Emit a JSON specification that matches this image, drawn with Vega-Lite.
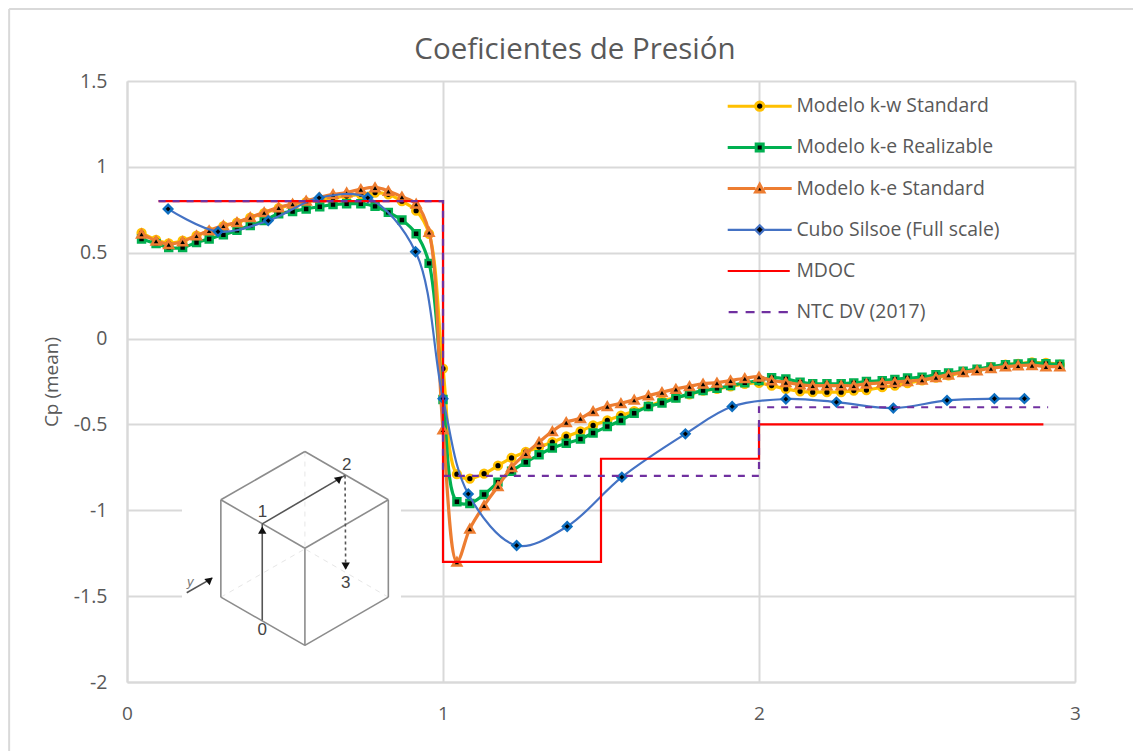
{
"$schema":"https://vega.github.io/schema/vega-lite/v6.json",
"width":948,"height":601,
"autosize":{"type":"none"},
"padding":{"left":127,"top":81,"right":58,"bottom":69},
"background":"white",
"title":{"text":"Coeficientes de Presión","font":"Open Sans","fontSize":29.5,"fontWeight":"normal","color":"#595959","anchor":"middle","dx":-26,"offset":-58},
"config":{"view":{"stroke":null}},
"datasets":{
"series":[
{"serie":"Modelo k-w Standard","x":0.046,"cp":0.615},{"serie":"Modelo k-w Standard","x":0.092,"cp":0.575},{"serie":"Modelo k-w Standard","x":0.132,"cp":0.555},{"serie":"Modelo k-w Standard","x":0.176,"cp":0.57},{"serie":"Modelo k-w Standard","x":0.22,"cp":0.6},{"serie":"Modelo k-w Standard","x":0.26,"cp":0.625},{"serie":"Modelo k-w Standard","x":0.305,"cp":0.655},{"serie":"Modelo k-w Standard","x":0.348,"cp":0.675},{"serie":"Modelo k-w Standard","x":0.39,"cp":0.705},{"serie":"Modelo k-w Standard","x":0.434,"cp":0.73},{"serie":"Modelo k-w Standard","x":0.48,"cp":0.76},{"serie":"Modelo k-w Standard","x":0.524,"cp":0.78},{"serie":"Modelo k-w Standard","x":0.567,"cp":0.795},{"serie":"Modelo k-w Standard","x":0.61,"cp":0.81},{"serie":"Modelo k-w Standard","x":0.652,"cp":0.82},{"serie":"Modelo k-w Standard","x":0.695,"cp":0.83},{"serie":"Modelo k-w Standard","x":0.74,"cp":0.84},{"serie":"Modelo k-w Standard","x":0.785,"cp":0.85},{"serie":"Modelo k-w Standard","x":0.827,"cp":0.84},{"serie":"Modelo k-w Standard","x":0.87,"cp":0.8},{"serie":"Modelo k-w Standard","x":0.915,"cp":0.745},{"serie":"Modelo k-w Standard","x":0.956,"cp":0.61},{"serie":"Modelo k-w Standard","x":1.0,"cp":-0.175},{"serie":"Modelo k-w Standard","x":1.044,"cp":-0.79},{"serie":"Modelo k-w Standard","x":1.085,"cp":-0.815},{"serie":"Modelo k-w Standard","x":1.13,"cp":-0.787},{"serie":"Modelo k-w Standard","x":1.174,"cp":-0.74},{"serie":"Modelo k-w Standard","x":1.217,"cp":-0.695},{"serie":"Modelo k-w Standard","x":1.262,"cp":-0.66},{"serie":"Modelo k-w Standard","x":1.304,"cp":-0.632},{"serie":"Modelo k-w Standard","x":1.346,"cp":-0.603},{"serie":"Modelo k-w Standard","x":1.39,"cp":-0.57},{"serie":"Modelo k-w Standard","x":1.435,"cp":-0.54},{"serie":"Modelo k-w Standard","x":1.475,"cp":-0.506},{"serie":"Modelo k-w Standard","x":1.52,"cp":-0.477},{"serie":"Modelo k-w Standard","x":1.563,"cp":-0.448},{"serie":"Modelo k-w Standard","x":1.605,"cp":-0.423},{"serie":"Modelo k-w Standard","x":1.65,"cp":-0.394},{"serie":"Modelo k-w Standard","x":1.693,"cp":-0.365},{"serie":"Modelo k-w Standard","x":1.737,"cp":-0.343},{"serie":"Modelo k-w Standard","x":1.78,"cp":-0.325},{"serie":"Modelo k-w Standard","x":1.823,"cp":-0.303},{"serie":"Modelo k-w Standard","x":1.867,"cp":-0.293},{"serie":"Modelo k-w Standard","x":1.91,"cp":-0.278},{"serie":"Modelo k-w Standard","x":1.955,"cp":-0.264},{"serie":"Modelo k-w Standard","x":2.0,"cp":-0.258},{"serie":"Modelo k-w Standard","x":2.04,"cp":-0.274},{"serie":"Modelo k-w Standard","x":2.085,"cp":-0.293},{"serie":"Modelo k-w Standard","x":2.13,"cp":-0.307},{"serie":"Modelo k-w Standard","x":2.17,"cp":-0.312},{"serie":"Modelo k-w Standard","x":2.215,"cp":-0.312},{"serie":"Modelo k-w Standard","x":2.26,"cp":-0.312},{"serie":"Modelo k-w Standard","x":2.3,"cp":-0.303},{"serie":"Modelo k-w Standard","x":2.34,"cp":-0.3},{"serie":"Modelo k-w Standard","x":2.39,"cp":-0.283},{"serie":"Modelo k-w Standard","x":2.43,"cp":-0.274},{"serie":"Modelo k-w Standard","x":2.47,"cp":-0.26},{"serie":"Modelo k-w Standard","x":2.516,"cp":-0.244},{"serie":"Modelo k-w Standard","x":2.56,"cp":-0.227},{"serie":"Modelo k-w Standard","x":2.6,"cp":-0.215},{"serie":"Modelo k-w Standard","x":2.646,"cp":-0.196},{"serie":"Modelo k-w Standard","x":2.69,"cp":-0.182},{"serie":"Modelo k-w Standard","x":2.734,"cp":-0.167},{"serie":"Modelo k-w Standard","x":2.78,"cp":-0.151},{"serie":"Modelo k-w Standard","x":2.82,"cp":-0.147},{"serie":"Modelo k-w Standard","x":2.864,"cp":-0.138},{"serie":"Modelo k-w Standard","x":2.908,"cp":-0.142},{"serie":"Modelo k-w Standard","x":2.952,"cp":-0.151},
{"serie":"Modelo k-e Realizable","x":0.046,"cp":0.58},{"serie":"Modelo k-e Realizable","x":0.092,"cp":0.553},{"serie":"Modelo k-e Realizable","x":0.132,"cp":0.53},{"serie":"Modelo k-e Realizable","x":0.176,"cp":0.53},{"serie":"Modelo k-e Realizable","x":0.22,"cp":0.56},{"serie":"Modelo k-e Realizable","x":0.26,"cp":0.58},{"serie":"Modelo k-e Realizable","x":0.305,"cp":0.605},{"serie":"Modelo k-e Realizable","x":0.348,"cp":0.63},{"serie":"Modelo k-e Realizable","x":0.39,"cp":0.658},{"serie":"Modelo k-e Realizable","x":0.434,"cp":0.687},{"serie":"Modelo k-e Realizable","x":0.48,"cp":0.727},{"serie":"Modelo k-e Realizable","x":0.524,"cp":0.74},{"serie":"Modelo k-e Realizable","x":0.567,"cp":0.755},{"serie":"Modelo k-e Realizable","x":0.61,"cp":0.768},{"serie":"Modelo k-e Realizable","x":0.652,"cp":0.78},{"serie":"Modelo k-e Realizable","x":0.695,"cp":0.785},{"serie":"Modelo k-e Realizable","x":0.74,"cp":0.785},{"serie":"Modelo k-e Realizable","x":0.785,"cp":0.77},{"serie":"Modelo k-e Realizable","x":0.827,"cp":0.735},{"serie":"Modelo k-e Realizable","x":0.87,"cp":0.69},{"serie":"Modelo k-e Realizable","x":0.915,"cp":0.61},{"serie":"Modelo k-e Realizable","x":0.956,"cp":0.438},{"serie":"Modelo k-e Realizable","x":1.0,"cp":-0.355},{"serie":"Modelo k-e Realizable","x":1.044,"cp":-0.95},{"serie":"Modelo k-e Realizable","x":1.085,"cp":-0.96},{"serie":"Modelo k-e Realizable","x":1.13,"cp":-0.908},{"serie":"Modelo k-e Realizable","x":1.174,"cp":-0.836},{"serie":"Modelo k-e Realizable","x":1.217,"cp":-0.773},{"serie":"Modelo k-e Realizable","x":1.262,"cp":-0.72},{"serie":"Modelo k-e Realizable","x":1.304,"cp":-0.677},{"serie":"Modelo k-e Realizable","x":1.346,"cp":-0.637},{"serie":"Modelo k-e Realizable","x":1.39,"cp":-0.61},{"serie":"Modelo k-e Realizable","x":1.435,"cp":-0.585},{"serie":"Modelo k-e Realizable","x":1.475,"cp":-0.55},{"serie":"Modelo k-e Realizable","x":1.52,"cp":-0.512},{"serie":"Modelo k-e Realizable","x":1.563,"cp":-0.477},{"serie":"Modelo k-e Realizable","x":1.605,"cp":-0.435},{"serie":"Modelo k-e Realizable","x":1.65,"cp":-0.396},{"serie":"Modelo k-e Realizable","x":1.693,"cp":-0.375},{"serie":"Modelo k-e Realizable","x":1.737,"cp":-0.347},{"serie":"Modelo k-e Realizable","x":1.78,"cp":-0.322},{"serie":"Modelo k-e Realizable","x":1.823,"cp":-0.303},{"serie":"Modelo k-e Realizable","x":1.867,"cp":-0.29},{"serie":"Modelo k-e Realizable","x":1.91,"cp":-0.274},{"serie":"Modelo k-e Realizable","x":1.955,"cp":-0.257},{"serie":"Modelo k-e Realizable","x":2.0,"cp":-0.245},{"serie":"Modelo k-e Realizable","x":2.04,"cp":-0.228},{"serie":"Modelo k-e Realizable","x":2.085,"cp":-0.235},{"serie":"Modelo k-e Realizable","x":2.13,"cp":-0.254},{"serie":"Modelo k-e Realizable","x":2.17,"cp":-0.263},{"serie":"Modelo k-e Realizable","x":2.215,"cp":-0.263},{"serie":"Modelo k-e Realizable","x":2.26,"cp":-0.263},{"serie":"Modelo k-e Realizable","x":2.3,"cp":-0.258},{"serie":"Modelo k-e Realizable","x":2.34,"cp":-0.25},{"serie":"Modelo k-e Realizable","x":2.39,"cp":-0.245},{"serie":"Modelo k-e Realizable","x":2.43,"cp":-0.238},{"serie":"Modelo k-e Realizable","x":2.47,"cp":-0.23},{"serie":"Modelo k-e Realizable","x":2.516,"cp":-0.225},{"serie":"Modelo k-e Realizable","x":2.56,"cp":-0.21},{"serie":"Modelo k-e Realizable","x":2.6,"cp":-0.2},{"serie":"Modelo k-e Realizable","x":2.646,"cp":-0.19},{"serie":"Modelo k-e Realizable","x":2.69,"cp":-0.178},{"serie":"Modelo k-e Realizable","x":2.734,"cp":-0.165},{"serie":"Modelo k-e Realizable","x":2.78,"cp":-0.152},{"serie":"Modelo k-e Realizable","x":2.82,"cp":-0.148},{"serie":"Modelo k-e Realizable","x":2.864,"cp":-0.142},{"serie":"Modelo k-e Realizable","x":2.908,"cp":-0.147},{"serie":"Modelo k-e Realizable","x":2.952,"cp":-0.15},
{"serie":"Modelo k-e Standard","x":0.046,"cp":0.61},{"serie":"Modelo k-e Standard","x":0.092,"cp":0.57},{"serie":"Modelo k-e Standard","x":0.132,"cp":0.55},{"serie":"Modelo k-e Standard","x":0.176,"cp":0.566},{"serie":"Modelo k-e Standard","x":0.22,"cp":0.6},{"serie":"Modelo k-e Standard","x":0.26,"cp":0.63},{"serie":"Modelo k-e Standard","x":0.305,"cp":0.658},{"serie":"Modelo k-e Standard","x":0.348,"cp":0.677},{"serie":"Modelo k-e Standard","x":0.39,"cp":0.706},{"serie":"Modelo k-e Standard","x":0.434,"cp":0.735},{"serie":"Modelo k-e Standard","x":0.48,"cp":0.764},{"serie":"Modelo k-e Standard","x":0.524,"cp":0.785},{"serie":"Modelo k-e Standard","x":0.567,"cp":0.803},{"serie":"Modelo k-e Standard","x":0.61,"cp":0.822},{"serie":"Modelo k-e Standard","x":0.652,"cp":0.84},{"serie":"Modelo k-e Standard","x":0.695,"cp":0.85},{"serie":"Modelo k-e Standard","x":0.74,"cp":0.87},{"serie":"Modelo k-e Standard","x":0.785,"cp":0.88},{"serie":"Modelo k-e Standard","x":0.827,"cp":0.86},{"serie":"Modelo k-e Standard","x":0.87,"cp":0.826},{"serie":"Modelo k-e Standard","x":0.915,"cp":0.785},{"serie":"Modelo k-e Standard","x":0.956,"cp":0.62},{"serie":"Modelo k-e Standard","x":1.0,"cp":-0.53},{"serie":"Modelo k-e Standard","x":1.044,"cp":-1.3},{"serie":"Modelo k-e Standard","x":1.085,"cp":-1.107},{"serie":"Modelo k-e Standard","x":1.13,"cp":-0.972},{"serie":"Modelo k-e Standard","x":1.174,"cp":-0.86},{"serie":"Modelo k-e Standard","x":1.217,"cp":-0.75},{"serie":"Modelo k-e Standard","x":1.262,"cp":-0.67},{"serie":"Modelo k-e Standard","x":1.304,"cp":-0.603},{"serie":"Modelo k-e Standard","x":1.346,"cp":-0.54},{"serie":"Modelo k-e Standard","x":1.39,"cp":-0.487},{"serie":"Modelo k-e Standard","x":1.435,"cp":-0.464},{"serie":"Modelo k-e Standard","x":1.475,"cp":-0.423},{"serie":"Modelo k-e Standard","x":1.52,"cp":-0.394},{"serie":"Modelo k-e Standard","x":1.563,"cp":-0.377},{"serie":"Modelo k-e Standard","x":1.605,"cp":-0.357},{"serie":"Modelo k-e Standard","x":1.65,"cp":-0.332},{"serie":"Modelo k-e Standard","x":1.693,"cp":-0.312},{"serie":"Modelo k-e Standard","x":1.737,"cp":-0.293},{"serie":"Modelo k-e Standard","x":1.78,"cp":-0.278},{"serie":"Modelo k-e Standard","x":1.823,"cp":-0.263},{"serie":"Modelo k-e Standard","x":1.867,"cp":-0.257},{"serie":"Modelo k-e Standard","x":1.91,"cp":-0.244},{"serie":"Modelo k-e Standard","x":1.955,"cp":-0.231},{"serie":"Modelo k-e Standard","x":2.0,"cp":-0.222},{"serie":"Modelo k-e Standard","x":2.04,"cp":-0.244},{"serie":"Modelo k-e Standard","x":2.085,"cp":-0.254},{"serie":"Modelo k-e Standard","x":2.13,"cp":-0.268},{"serie":"Modelo k-e Standard","x":2.17,"cp":-0.274},{"serie":"Modelo k-e Standard","x":2.215,"cp":-0.274},{"serie":"Modelo k-e Standard","x":2.26,"cp":-0.274},{"serie":"Modelo k-e Standard","x":2.3,"cp":-0.274},{"serie":"Modelo k-e Standard","x":2.34,"cp":-0.263},{"serie":"Modelo k-e Standard","x":2.39,"cp":-0.258},{"serie":"Modelo k-e Standard","x":2.43,"cp":-0.254},{"serie":"Modelo k-e Standard","x":2.47,"cp":-0.248},{"serie":"Modelo k-e Standard","x":2.516,"cp":-0.24},{"serie":"Modelo k-e Standard","x":2.56,"cp":-0.225},{"serie":"Modelo k-e Standard","x":2.6,"cp":-0.21},{"serie":"Modelo k-e Standard","x":2.646,"cp":-0.196},{"serie":"Modelo k-e Standard","x":2.69,"cp":-0.186},{"serie":"Modelo k-e Standard","x":2.734,"cp":-0.173},{"serie":"Modelo k-e Standard","x":2.78,"cp":-0.163},{"serie":"Modelo k-e Standard","x":2.82,"cp":-0.157},{"serie":"Modelo k-e Standard","x":2.864,"cp":-0.155},{"serie":"Modelo k-e Standard","x":2.908,"cp":-0.163},{"serie":"Modelo k-e Standard","x":2.952,"cp":-0.163},
{"serie":"Cubo Silsoe (Full scale)","x":0.13,"cp":0.755},{"serie":"Cubo Silsoe (Full scale)","x":0.288,"cp":0.623},{"serie":"Cubo Silsoe (Full scale)","x":0.447,"cp":0.687},{"serie":"Cubo Silsoe (Full scale)","x":0.608,"cp":0.82},{"serie":"Cubo Silsoe (Full scale)","x":0.762,"cp":0.82},{"serie":"Cubo Silsoe (Full scale)","x":0.913,"cp":0.506},{"serie":"Cubo Silsoe (Full scale)","x":1.0,"cp":-0.35},{"serie":"Cubo Silsoe (Full scale)","x":1.08,"cp":-0.905},{"serie":"Cubo Silsoe (Full scale)","x":1.233,"cp":-1.205},{"serie":"Cubo Silsoe (Full scale)","x":1.393,"cp":-1.094},{"serie":"Cubo Silsoe (Full scale)","x":1.566,"cp":-0.807},{"serie":"Cubo Silsoe (Full scale)","x":1.767,"cp":-0.555},{"serie":"Cubo Silsoe (Full scale)","x":1.915,"cp":-0.396},{"serie":"Cubo Silsoe (Full scale)","x":2.085,"cp":-0.352},{"serie":"Cubo Silsoe (Full scale)","x":2.245,"cp":-0.37},{"serie":"Cubo Silsoe (Full scale)","x":2.425,"cp":-0.405},{"serie":"Cubo Silsoe (Full scale)","x":2.595,"cp":-0.36},{"serie":"Cubo Silsoe (Full scale)","x":2.745,"cp":-0.35},{"serie":"Cubo Silsoe (Full scale)","x":2.84,"cp":-0.35},
{"serie":"MDOC","orden":1,"x":0.1,"cp":0.8},{"serie":"MDOC","orden":2,"x":1,"cp":0.8},{"serie":"MDOC","orden":3,"x":1,"cp":-1.3},{"serie":"MDOC","orden":4,"x":1.5,"cp":-1.3},{"serie":"MDOC","orden":5,"x":1.5,"cp":-0.7},{"serie":"MDOC","orden":6,"x":2,"cp":-0.7},{"serie":"MDOC","orden":7,"x":2,"cp":-0.5},{"serie":"MDOC","orden":8,"x":2.9,"cp":-0.5},
{"serie":"NTC DV (2017)","orden":1,"x":0.1,"cp":0.8},{"serie":"NTC DV (2017)","orden":2,"x":1,"cp":0.8},{"serie":"NTC DV (2017)","orden":3,"x":1,"cp":-0.8},{"serie":"NTC DV (2017)","orden":4,"x":2,"cp":-0.8},{"serie":"NTC DV (2017)","orden":5,"x":2,"cp":-0.4},{"serie":"NTC DV (2017)","orden":6,"x":2.915,"cp":-0.4}
],
"cubo":[
{"parte":"arista","x":0.563,"cp":-0.658,"x2":0.827,"cp2":-0.939},
{"parte":"arista","x":0.827,"cp":-0.939,"x2":0.563,"cp2":-1.221},
{"parte":"arista","x":0.563,"cp":-1.221,"x2":0.297,"cp2":-0.939},
{"parte":"arista","x":0.297,"cp":-0.939,"x2":0.563,"cp2":-0.658},
{"parte":"arista","x":0.297,"cp":-0.939,"x2":0.297,"cp2":-1.506},
{"parte":"arista","x":0.297,"cp":-1.506,"x2":0.563,"cp2":-1.787},
{"parte":"arista","x":0.563,"cp":-1.787,"x2":0.827,"cp2":-1.506},
{"parte":"arista","x":0.827,"cp":-1.506,"x2":0.827,"cp2":-0.939},
{"parte":"arista","x":0.563,"cp":-1.221,"x2":0.563,"cp2":-1.787},
{"parte":"oculta","x":0.563,"cp":-0.658,"x2":0.563,"cp2":-1.221},
{"parte":"oculta","x":0.297,"cp":-1.506,"x2":0.563,"cp2":-1.225},
{"parte":"oculta","x":0.827,"cp":-1.506,"x2":0.563,"cp2":-1.225},
{"parte":"flecha","x":0.428,"cp":-1.641,"x2":0.428,"cp2":-1.079},
{"parte":"flecha","x":0.428,"cp":-1.079,"x2":0.69,"cp2":-0.797},
{"parte":"flecha","x":0.189,"cp":-1.48,"x2":0.27,"cp2":-1.395},
{"parte":"flecha3","x":0.69,"cp":-0.797,"x2":0.692,"cp2":-1.35}
],
"puntas":[
{"x":0.428,"cp":-1.115,"giro":0},
{"x":0.672,"cp":-0.815,"giro":50},
{"x":0.692,"cp":-1.325,"giro":180},
{"x":0.262,"cp":-1.405,"giro":50}
],
"rotulos":[
{"x":0.428,"cp":-1.7,"rotulo":"0"},
{"x":0.429,"cp":-1.01,"rotulo":"1"},
{"x":0.695,"cp":-0.735,"rotulo":"2"},
{"x":0.692,"cp":-1.425,"rotulo":"3"}
],
"mascara":[{"x":0.174,"cp":-0.61,"x2":0.867,"cp2":-1.845}],
"marco":[
{"x":-0.373,"cp":1.92,"x2":3.184,"cp2":1.92},
{"x":-0.373,"cp":1.92,"x2":-0.373,"cp2":-2.404}
]
},
"encoding":{
"x":{"field":"x","type":"quantitative","scale":{"domain":[0,3],"nice":false,"zero":false},
"axis":{"title":null,"values":[0,1,2,3],"grid":true,"gridColor":"#d9d9d9","gridWidth":2,"ticks":false,"domainColor":"#d9d9d9","domainWidth":2,"labelFont":"Open Sans","labelFontSize":19,"labelFlush":false,"labelColor":"#595959","labelPadding":22,"zindex":0}},
"y":{"field":"cp","type":"quantitative","scale":{"domain":[-2,1.5],"nice":false,"zero":false},
"axis":{"title":"Cp (mean)","titleFont":"Open Sans","titleFontSize":19,"titleFontWeight":"normal","titleColor":"#595959","titlePadding":12,"values":[-2,-1.5,-1,-0.5,0,0.5,1,1.5],"labelExpr":"''+datum.value","grid":true,"gridColor":"#d9d9d9","gridWidth":2,"ticks":false,"domainColor":"#d9d9d9","domainWidth":2,"labelFont":"Open Sans","labelFontSize":19.5,"labelColor":"#595959","labelPadding":20,"zindex":0}}
},
"layer":[
{"data":{"name":"marco"},"mark":{"type":"rule","color":"#d9d9d9","strokeWidth":2},"encoding":{"x2":{"field":"x2"},"y2":{"field":"cp2"}}},
{"data":{"name":"mascara"},"mark":{"type":"rect","fill":"white"},"encoding":{"x2":{"field":"x2"},"y2":{"field":"cp2"}}},
{"data":{"name":"cubo"},"transform":[{"filter":"datum.parte=='oculta'"}],"mark":{"type":"rule","color":"#e6e6e6","strokeWidth":1,"strokeDash":[5,5]},"encoding":{"x2":{"field":"x2"},"y2":{"field":"cp2"}}},
{"data":{"name":"cubo"},"transform":[{"filter":"datum.parte=='arista'"}],"mark":{"type":"rule","color":"#8c8c8c","strokeWidth":1.6},"encoding":{"x2":{"field":"x2"},"y2":{"field":"cp2"}}},
{"data":{"name":"cubo"},"transform":[{"filter":"datum.parte=='flecha'"}],"mark":{"type":"rule","color":"#555555","strokeWidth":1.6},"encoding":{"x2":{"field":"x2"},"y2":{"field":"cp2"}}},
{"data":{"name":"cubo"},"transform":[{"filter":"datum.parte=='flecha3'"}],"mark":{"type":"rule","color":"#555555","strokeWidth":1.6,"strokeDash":[3,3]},"encoding":{"x2":{"field":"x2"},"y2":{"field":"cp2"}}},
{"data":{"name":"puntas"},"mark":{"type":"point","shape":"triangle-up","filled":true,"color":"#111111","size":70,"opacity":1},"encoding":{"angle":{"field":"giro","type":"quantitative","scale":null}}},
{"data":{"name":"rotulos"},"mark":{"type":"text","font":"Liberation Sans","fontSize":17,"color":"#444444"},"encoding":{"text":{"field":"rotulo"}}},
{"data":{"values":[{"x":0.2,"cp":-1.42,"rotulo":"y"}]},"mark":{"type":"text","font":"Liberation Sans","fontSize":13,"fontStyle":"italic","color":"#777777"},"encoding":{"text":{"field":"rotulo"}}},
{"data":{"name":"series"},"transform":[{"filter":"datum.serie=='Modelo k-w Standard'"}],"mark":{"type":"line","interpolate":"catmull-rom","strokeWidth":3.2},
"encoding":{"stroke":{"field":"serie","type":"nominal","scale":{"domain":["Modelo k-w Standard","Modelo k-e Realizable","Modelo k-e Standard","Cubo Silsoe (Full scale)","MDOC","NTC DV (2017)"],"range":["#ffc000","#00b050","#ed7d31","#4472c4","#ff0000","#7030a0"]},
"legend":{"title":null,"orient":"none","legendX":623,"legendY":15.5,"padding":0,"rowPadding":20.2,"symbolSize":100,"labelFont":"Open Sans","labelFontSize":19.4,"labelColor":"#595959","labelOffset":27,"labelLimit":300,"symbolStrokeWidth":2,
"encode":{"symbols":{"update":{
"size":{"value":4096},
"fill":{"value":"#000000"},
"fillOpacity":{"value":1},
"strokeWidth":{"signal":"datum.value=='Modelo k-w Standard'||datum.value=='Modelo k-e Realizable'||datum.value=='Modelo k-e Standard'?3:2.2"},
"shape":{"signal":"datum.value=='Modelo k-w Standard'?'M-1,0H-.13M.13,0H1M.13,0A.13,.13,0,1,1,-.13,0A.13,.13,0,1,1,.13,0Z':datum.value=='Modelo k-e Realizable'?'M-1,0H-.11M.11,0H1M-.11,-.11H.11V.11H-.11Z':datum.value=='Modelo k-e Standard'?'M-1,0H-.13M.13,0H1M-.13,.11L0,-.13L.13,.11Z':datum.value=='Cubo Silsoe (Full scale)'?'M-1,0H-.14M.14,0H1M0,-.14L.14,0L0,.14L-.14,0Z':datum.value=='MDOC'?'M-1,0H.94':'M-.97,0H-.69M-.44,0H-.16M.06,0H.34M.59,0H.88'"}
}}}}}}},
{"data":{"name":"series"},"transform":[{"filter":"datum.serie=='Modelo k-w Standard'"}],"mark":{"type":"point","shape":"circle","filled":false,"fill":"#000000","fillOpacity":1,"size":60,"strokeWidth":2.5,"opacity":1},"encoding":{"stroke":{"field":"serie","type":"nominal","legend":null}}},
{"data":{"name":"series"},"transform":[{"filter":"datum.serie=='Modelo k-e Realizable'"}],"mark":{"type":"line","interpolate":"catmull-rom","strokeWidth":3.2},"encoding":{"stroke":{"field":"serie","type":"nominal","legend":null}}},
{"data":{"name":"series"},"transform":[{"filter":"datum.serie=='Modelo k-e Realizable'"}],"mark":{"type":"point","shape":"square","filled":false,"fill":"#000000","fillOpacity":1,"size":48,"strokeWidth":2.5,"opacity":1},"encoding":{"stroke":{"field":"serie","type":"nominal","legend":null}}},
{"data":{"name":"series"},"transform":[{"filter":"datum.serie=='Modelo k-e Standard'"}],"mark":{"type":"line","interpolate":"catmull-rom","strokeWidth":3.2},"encoding":{"stroke":{"field":"serie","type":"nominal","legend":null}}},
{"data":{"name":"series"},"transform":[{"filter":"datum.serie=='Modelo k-e Standard'"}],"mark":{"type":"point","shape":"triangle-up","filled":false,"fill":"#000000","fillOpacity":1,"size":75,"strokeWidth":2.5,"opacity":1},"encoding":{"stroke":{"field":"serie","type":"nominal","legend":null}}},
{"data":{"name":"series"},"transform":[{"filter":"datum.serie=='Cubo Silsoe (Full scale)'"}],"mark":{"type":"line","interpolate":"catmull-rom","strokeWidth":2.2},"encoding":{"stroke":{"field":"serie","type":"nominal","legend":null}}},
{"data":{"name":"series"},"transform":[{"filter":"datum.serie=='Cubo Silsoe (Full scale)'"}],"mark":{"type":"point","shape":"diamond","filled":false,"fill":"#000000","fillOpacity":1,"size":70,"strokeWidth":2.5,"stroke":"#0f6fc0","opacity":1},"encoding":{}},
{"data":{"name":"series"},"transform":[{"filter":"datum.serie=='MDOC'"}],"mark":{"type":"line","interpolate":"linear","strokeWidth":2.2},"encoding":{"order":{"field":"orden"},"stroke":{"field":"serie","type":"nominal","legend":null}}},
{"data":{"name":"series"},"transform":[{"filter":"datum.serie=='NTC DV (2017)'"}],"mark":{"type":"line","interpolate":"linear","strokeWidth":2.2,"strokeDash":[7,7]},"encoding":{"order":{"field":"orden"},"stroke":{"field":"serie","type":"nominal","legend":null}}}
]
}
